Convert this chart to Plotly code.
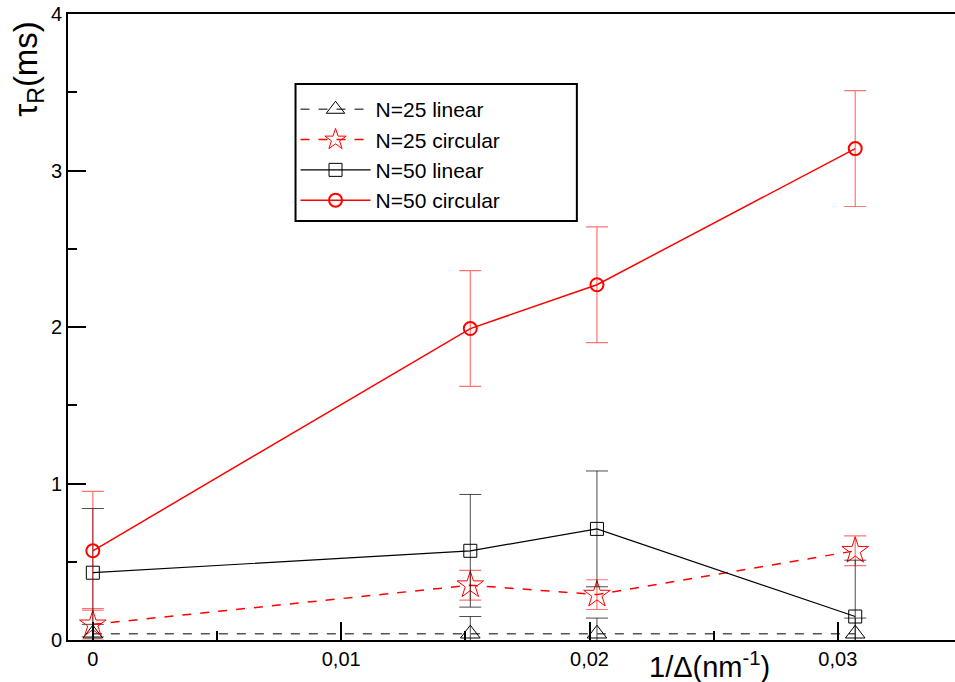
import plotly.graph_objects as go

# ---- data ----
x_vals = [0.0, 0.0152, 0.0203, 0.0307]

n25_linear = [0.04, 0.04, 0.04, 0.04]
n25_linear_err = [0.06, 0.11, 0.10, 0.10]

n25_circular = [0.10, 0.35, 0.29, 0.57]
n25_circular_err = [0.10, 0.095, 0.095, 0.095]

n50_linear = [0.43, 0.57, 0.71, 0.15]
n50_linear_err = [0.41, 0.36, 0.37, 0.36]

n50_circular = [0.57, 1.99, 2.27, 3.14]
n50_circular_err = [0.38, 0.37, 0.37, 0.37]

series_names = ["N=25 linear", "N=25 circular", "N=50 linear", "N=50 circular"]

FONT = "Liberation Sans, Arial, sans-serif"
RED = "#ff0000"
RED_ERR = "rgba(255,0,0,0.55)"
BLACK = "#000000"
BLACK_ERR = "rgba(0,0,0,0.7)"

fig = go.Figure()

fig.add_trace(go.Scatter(
    x=x_vals, y=n25_linear, name=series_names[0], mode="lines+markers",
    line=dict(color="#555555", width=1.5, dash="dash"),
    marker=dict(symbol="triangle-up-open", size=17, color=BLACK, line=dict(width=1)),
    error_y=dict(type="data", array=n25_linear_err, color=BLACK_ERR, thickness=1, width=11),
))
fig.add_trace(go.Scatter(
    x=x_vals, y=n25_circular, name=series_names[1], mode="lines+markers",
    line=dict(color=RED, width=1.5, dash="dash"),
    marker=dict(symbol="star-open", size=20, color=RED, line=dict(width=1)),
    error_y=dict(type="data", array=n25_circular_err, color=RED_ERR, thickness=1.2, width=11),
))
fig.add_trace(go.Scatter(
    x=x_vals, y=n50_linear, name=series_names[2], mode="lines+markers",
    line=dict(color=BLACK, width=1.2),
    marker=dict(symbol="square-open", size=13, color=BLACK, line=dict(width=1)),
    error_y=dict(type="data", array=n50_linear_err, color=BLACK_ERR, thickness=1, width=11),
))
fig.add_trace(go.Scatter(
    x=x_vals, y=n50_circular, name=series_names[3], mode="lines+markers",
    line=dict(color=RED, width=1.5),
    marker=dict(symbol="circle-open", size=13, color=RED, line=dict(width=2)),
    error_y=dict(type="data", array=n50_circular_err, color=RED_ERR, thickness=1.2, width=11),
))

fig.update_layout(
    width=964, height=682,
    margin=dict(l=68, r=0, t=14, b=42),
    paper_bgcolor="white", plot_bgcolor="white",
    separators=",.",
    font=dict(family=FONT, size=20, color="black"),
    showlegend=True,
    legend=dict(
        x=0.2545, y=0.880, xanchor="left", yanchor="top",
        bgcolor="rgba(0,0,0,0)", borderwidth=0,
        font=dict(family=FONT, size=21, color="black"),
        itemwidth=70, tracegroupgap=0,
    ),
    shapes=[
        dict(type="rect", xref="paper", yref="paper",
             x0=0.2545, x1=0.5692, y0=0.6693, y1=0.888,
             line=dict(color="black", width=2), fillcolor="white", layer="above"),
    ],
    xaxis=dict(
        range=[-0.001, 0.035], dtick=0.01, tick0=0,
        showgrid=False, zeroline=False,
        showline=True, linecolor="black", linewidth=2, mirror=True,
        ticks="inside", ticklen=18, tickwidth=1.5, tickcolor="black",
        minor=dict(dtick=0.005, ticks="inside", ticklen=9, tickwidth=1.5, tickcolor="black"),
        tickfont=dict(family=FONT, size=20),
    ),
    yaxis=dict(
        range=[0, 4], dtick=1, tick0=0,
        showgrid=False, zeroline=False,
        showline=True, linecolor="black", linewidth=2, mirror=True,
        ticks="inside", ticklen=18, tickwidth=1.5, tickcolor="black",
        minor=dict(dtick=0.5, ticks="inside", ticklen=9, tickwidth=1.5, tickcolor="black"),
        tickfont=dict(family=FONT, size=20),
    ),
    annotations=[
        dict(text="τ<sub>R</sub>(ms)", xref="paper", yref="paper",
             x=-0.045, y=0.912, xanchor="center", yanchor="middle",
             textangle=-90, showarrow=False,
             font=dict(family=FONT, size=33, color="black")),
        dict(text="1/Δ(nm<sup>-1</sup>)", xref="paper", yref="paper",
             x=0.718, y=-0.04, xanchor="center", yanchor="middle",
             showarrow=False,
             font=dict(family=FONT, size=29, color="black")),
    ],
)

fig.write_html("out.html")
